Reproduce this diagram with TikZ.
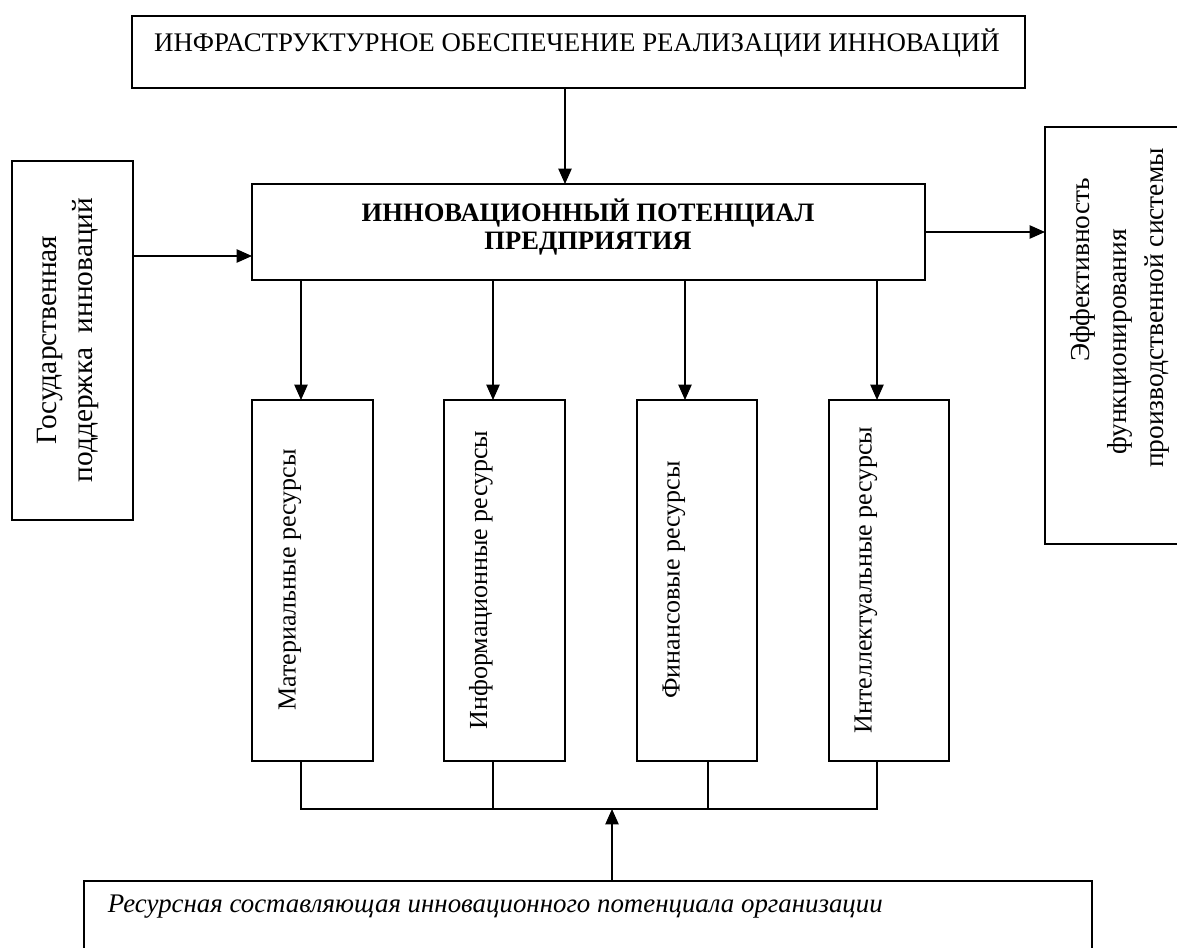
\documentclass[tikz,border=0pt]{standalone}
\definecolor{ink}{RGB}{0,0,0}
\usepackage{fontspec}
\setmainfont{Liberation Serif}
\usepackage{tikz}
\usetikzlibrary{arrows.meta,positioning,fit}

\tikzset{
  frame/.style={draw=ink, line width=1.1pt, inner sep=0pt},
  link/.style={draw=ink, line width=1.1pt},
  feed/.style={link, -{Triangle[length=11pt,width=9.5pt]}},
  plain/.style={text=ink, font=\fontsize{18.5}{26.3}\selectfont},
  upright/.style={plain, rotate=90, align=center},
}

\begin{document}
\begin{tikzpicture}[x=0.025cm, y=-0.025cm]
          \path[use as bounding box, clip] (0,0) rectangle (1177,947);
          \node[frame, fit={(132,16) (1025,88)}] (infra) {};
          \node[plain, font=\fontsize{19.1}{26.3}\selectfont] (infratext) at (577,43) {ИНФРАСТРУКТУРНОЕ ОБЕСПЕЧЕНИЕ РЕАЛИЗАЦИИ ИННОВАЦИЙ};
          \node[frame, fit={(252,184) (925,280)}] (core) {};
          \node[text=ink, font=\bfseries\fontsize{18.9}{20.6}\selectfont, align=center] (coretext) at (588,227) {ИННОВАЦИОННЫЙ ПОТЕНЦИАЛ\\ПРЕДПРИЯТИЯ};
          \node[frame, fit={(12,161) (133,520)}] (state) {};
          \node[upright, font=\fontsize{20.9}{26.3}\selectfont] (statetext) at (68,340) {Государственная\\поддержка\ \ инноваций};
          \node[frame, fit={(1045,127) (1200,544)}] (effect) {};
          \node[upright, font=\fontsize{19.5}{26.3}\selectfont] (effecttext) at (1120,308) {\rule{1.9cm}{0pt}Эффективность\\функционирования\rule{1.7cm}{0pt}\\производственной системы};
          \node[frame, fit={(252,400) (373,761)}] (mat) {};
          \node[frame, fit={(444,400) (565,761)}] (info) {};
          \node[frame, fit={(637,400) (757,761)}] (fin) {};
          \node[frame, fit={(829,400) (949,761)}] (intel) {};
          \node[upright] (mattext) at (290,580) {Материальные ресурсы};
          \node[upright] (infotext) at (481,580) {Информационные ресурсы};
          \node[upright] (fintext) at (674,580) {Финансовые ресурсы};
          \node[upright] (inteltext) at (866,580) {Интеллектуальные ресурсы};
          \node[frame, fit={(84,881) (1092,970)}] (base) {};
          \node[plain, font=\itshape\fontsize{19.1}{26.3}\selectfont, anchor=west] (basetext) at (103,907) {Ресурсная составляющая инновационного потенциала организации};
          \coordinate (corein) at (565,184);
          \coordinate (coreleft) at (252,256);
          \coordinate (effectin) at (1045,232);
          \coordinate (matin) at (301,400);
          \coordinate (infoin) at (493,400);
          \coordinate (finin) at (685,400);
          \coordinate (intelin) at (877,400);
          \coordinate (matout) at (301,761);
          \coordinate (infoout) at (493,761);
          \coordinate (finout) at (708,761);
          \coordinate (intelout) at (877,761);
          \coordinate (bus) at (612,809);
          \draw[feed] (infra.south -| corein) -- (corein);
          \draw[feed] (state.east |- coreleft) -- (coreleft);
          \draw[feed] (core.east |- effectin) -- (effectin);
          \draw[feed] (core.south -| matin) -- (matin);
          \draw[feed] (core.south -| infoin) -- (infoin);
          \draw[feed] (core.south -| finin) -- (finin);
          \draw[feed] (core.south -| intelin) -- (intelin);
          \draw[link] (matout) -- (matout |- bus) -- (intelout |- bus) -- (intelout);
          \draw[link] (infoout) -- (infoout |- bus);
          \draw[link] (finout) -- (finout |- bus);
          \draw[feed] (base.north -| bus) -- (bus);
        \end{tikzpicture}
\end{document}
